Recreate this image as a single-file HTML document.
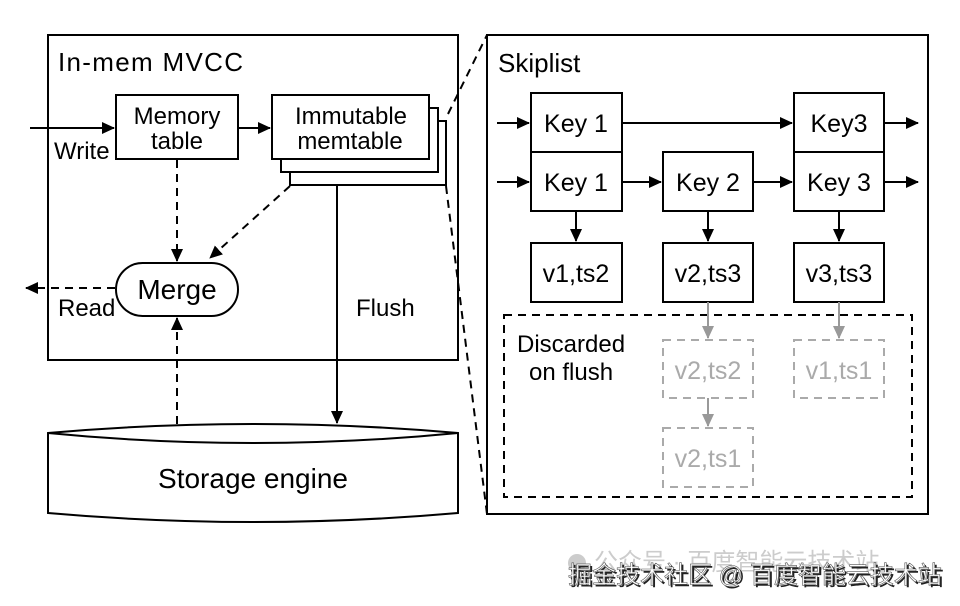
<!DOCTYPE html>
<html><head><meta charset="utf-8"><style>
html,body{margin:0;padding:0;background:#fff;}
svg{display:block;font-family:"Liberation Sans",Arial,sans-serif;}
</style></head><body>
<svg width="960" height="606" viewBox="0 0 960 606" xmlns="http://www.w3.org/2000/svg">
<defs>
<marker id="a" markerWidth="13" markerHeight="12" refX="12" refY="6" orient="auto" markerUnits="userSpaceOnUse"><path d="M0,0 L13,6 L0,12 Z" fill="#000"/></marker>
<marker id="g" markerWidth="13" markerHeight="12" refX="12" refY="6" orient="auto" markerUnits="userSpaceOnUse"><path d="M0,0 L13,6 L0,12 Z" fill="#999"/></marker>
</defs>
<g fill="none" stroke="#000" stroke-width="2">
<rect x="48" y="35" width="410" height="325"/>
<rect x="116" y="95" width="122" height="64"/>
<rect x="290" y="121" width="156" height="64" fill="#fff"/>
<rect x="281" y="108" width="157" height="64" fill="#fff"/>
<rect x="272" y="95" width="157" height="64" fill="#fff"/>
<rect x="116" y="263" width="122" height="53" rx="26.5"/>
<line x1="30" y1="128" x2="114" y2="128" marker-end="url(#a)"/>
<line x1="238" y1="128" x2="270" y2="128" marker-end="url(#a)"/>
<line x1="177" y1="160" x2="177" y2="261" stroke-dasharray="8,6" marker-end="url(#a)"/>
<line x1="290" y1="186" x2="210" y2="258" stroke-dasharray="8,6" marker-end="url(#a)"/>
<line x1="115" y1="288" x2="26" y2="288" stroke-dasharray="8,6" marker-end="url(#a)"/>
<line x1="337" y1="186" x2="337" y2="423" marker-end="url(#a)"/>
<line x1="177" y1="424" x2="177" y2="318" stroke-dasharray="8,6" marker-end="url(#a)"/>
<path d="M48,433 Q253,415 458,433 L458,513 Q253,531 48,513 Z" fill="#fff"/>
<path d="M48,433 Q253,453 458,433"/>
<line x1="448" y1="114" x2="487" y2="35" stroke-dasharray="8,6"/>
<line x1="446" y1="186" x2="487" y2="514" stroke-dasharray="8,6"/>
<rect x="487" y="35" width="441" height="479" fill="#fff"/>
<rect x="531" y="93" width="91" height="59"/>
<rect x="531" y="152" width="91" height="59"/>
<rect x="663" y="152" width="90" height="59"/>
<rect x="794" y="93" width="90" height="59"/>
<rect x="794" y="152" width="90" height="59"/>
<rect x="531" y="243" width="91" height="59"/>
<rect x="663" y="243" width="90" height="59"/>
<rect x="794" y="243" width="90" height="59"/>
<line x1="497" y1="123" x2="529" y2="123" marker-end="url(#a)"/>
<line x1="497" y1="182" x2="529" y2="182" marker-end="url(#a)"/>
<line x1="622" y1="123" x2="792" y2="123" marker-end="url(#a)"/>
<line x1="622" y1="182" x2="661" y2="182" marker-end="url(#a)"/>
<line x1="753" y1="182" x2="792" y2="182" marker-end="url(#a)"/>
<line x1="884" y1="123" x2="918" y2="123" marker-end="url(#a)"/>
<line x1="884" y1="182" x2="918" y2="182" marker-end="url(#a)"/>
<line x1="576" y1="211" x2="576" y2="241" marker-end="url(#a)"/>
<line x1="708" y1="211" x2="708" y2="241" marker-end="url(#a)"/>
<line x1="839" y1="211" x2="839" y2="241" marker-end="url(#a)"/>
<rect x="504" y="315" width="408" height="182" stroke-dasharray="8,6"/>
</g>
<g fill="none" stroke="#aaa" stroke-width="2">
<rect x="663" y="340" width="90" height="58" stroke-dasharray="8,6"/>
<rect x="794" y="340" width="90" height="58" stroke-dasharray="8,6"/>
<rect x="663" y="428" width="90" height="59" stroke-dasharray="8,6"/>
<line x1="708" y1="302" x2="708" y2="338" stroke="#999" marker-end="url(#g)"/>
<line x1="839" y1="302" x2="839" y2="338" stroke="#999" marker-end="url(#g)"/>
<line x1="708" y1="398" x2="708" y2="426" stroke="#999" marker-end="url(#g)"/>
</g>
<g fill="#000" font-size="24">
<text x="58" y="71" font-size="26" textLength="185">In-mem MVCC</text>
<text x="177" y="124" text-anchor="middle">Memory</text>
<text x="177" y="149" text-anchor="middle">table</text>
<text x="351" y="124" text-anchor="middle">Immutable</text>
<text x="350" y="149" text-anchor="middle">memtable</text>
<text x="54" y="159">Write</text>
<text x="177" y="299" text-anchor="middle" font-size="28">Merge</text>
<text x="58" y="316">Read</text>
<text x="356" y="316">Flush</text>
<text x="253" y="488" text-anchor="middle" font-size="28">Storage engine</text>
<text x="498" y="72" font-size="26">Skiplist</text>
<g font-size="25" text-anchor="middle">
<text x="576" y="132">Key 1</text>
<text x="576" y="191">Key 1</text>
<text x="708" y="191">Key 2</text>
<text x="839" y="132">Key3</text>
<text x="839" y="191">Key 3</text>
<text x="576" y="282">v1,ts2</text>
<text x="708" y="282">v2,ts3</text>
<text x="839" y="282">v3,ts3</text>
<g fill="#aaa">
<text x="708" y="379">v2,ts2</text>
<text x="839" y="379">v1,ts1</text>
<text x="708" y="467">v2,ts1</text>
</g>
</g>
<text x="517" y="352">Discarded</text>
<text x="529" y="380">on flush</text>
</g>
<g font-family="'Liberation Sans','Noto Sans CJK SC',sans-serif" font-size="24">
<circle cx="577" cy="563" r="9" fill="#ccc"/>
<text x="594" y="570" fill="#ccc">公众号 · 百度智能云技术站</text>
<text x="569" y="584" fill="#222" transform="translate(1,1)">掘金技术社区 @ 百度智能云技术站</text>
<text x="568" y="583" fill="#fff" stroke="#555" stroke-width="0.6">掘金技术社区 @ 百度智能云技术站</text>
</g>
</svg>
</body></html>
